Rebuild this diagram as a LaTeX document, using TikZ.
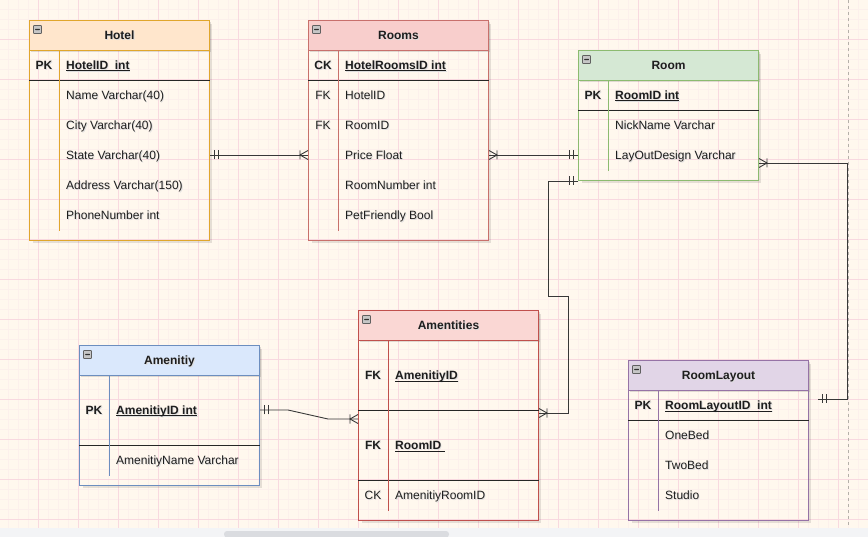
\documentclass[tikz,border=0pt]{standalone}
\usepackage{fontspec}
\setmainfont{Liberation Sans}
\usetikzlibrary{decorations.markings,calc}

\definecolor{bg}{HTML}{FFF8EE}
\definecolor{gridmaj}{HTML}{F8D9E0}
\definecolor{gridmin}{HTML}{FCF0EC}
\definecolor{strip}{HTML}{F3F4F6}
\definecolor{scroll}{HTML}{DADCE0}
\definecolor{pageline}{HTML}{B5B0AA}
\definecolor{txt}{HTML}{1E1E1E}
\definecolor{hotelF}{HTML}{FFE6CC}\definecolor{hotelB}{HTML}{E0A62C}
\definecolor{roomsF}{HTML}{F8CECC}\definecolor{roomsB}{HTML}{C8706C}
\definecolor{roomF}{HTML}{D5E8D4}\definecolor{roomB}{HTML}{8CBB70}
\definecolor{amenF}{HTML}{DAE8FC}\definecolor{amenB}{HTML}{6C8EBF}
\definecolor{amtsF}{HTML}{FAD7D4}\definecolor{amtsB}{HTML}{C0504D}
\definecolor{layF}{HTML}{E1D5E7}\definecolor{layB}{HTML}{9673A6}

% text with a soft offset shadow
\newcommand\sh[1]{\leavevmode\rlap{\kern0.9pt\raisebox{-0.9pt}{\textcolor{black!13}{#1}}}#1}
% underline that ignores descenders
\newcommand\ul[1]{\underline{\smash{#1}}}

\tikzset{
  tbody/.style={anchor=north west, minimum width=180pt, inner sep=0pt, line width=1pt},
  thead/.style={anchor=north west, minimum width=180pt, minimum height=30pt, inner sep=0pt,
    text height=8.6pt, text depth=0pt,
    line width=1pt, font=\fontsize{12}{14}\selectfont\bfseries, text=txt},
  tshadow/.style={draw=black, opacity=0.10, line width=2.5pt},
  minusicon/.style={draw=gray!75!black, fill=gray!45, minimum size=8pt, inner sep=0pt,
    rounded corners=0.6pt, line width=0.6pt,
    path picture={\fill[black!80] ([xshift=1.6pt,yshift=-0.7pt]path picture bounding box.west)
      rectangle ([xshift=-1.6pt,yshift=0.7pt]path picture bounding box.east);}},
  rowtxt/.style={inner sep=0pt, text height=8.6pt, text depth=0pt, text=txt,
    font=\fontsize{12}{14}\selectfont},
  keytxt/.style={rowtxt, anchor=center},
  fieldtxt/.style={rowtxt, anchor=west},
  keyb/.style={keytxt, font=\fontsize{12}{14}\selectfont\bfseries},
  fieldb/.style={fieldtxt, font=\fontsize{12}{14}\selectfont\bfseries},
  sepline/.style={draw=black!85, line width=0.9pt},
  conn/.style={draw=black!78, line width=0.9pt},
  mk/.style={draw=black!78, line width=0.9pt},
  one start/.style={postaction={decorate, decoration={markings,
      mark=at position 4.5pt with {\draw[mk] (0,-4.5pt) -- (0,4.5pt);},
      mark=at position 8.5pt with {\draw[mk] (0,-4.5pt) -- (0,4.5pt);}}}},
  one end/.style={postaction={decorate, decoration={markings,
      mark=at position -4.5pt with {\draw[mk] (0,-4.5pt) -- (0,4.5pt);},
      mark=at position -8.5pt with {\draw[mk] (0,-4.5pt) -- (0,4.5pt);}}}},
  many start/.style={postaction={decorate, decoration={markings,
      mark=at position 8pt with {\draw[mk] (-8pt,4.5pt) -- (0,0) -- (-8pt,-4.5pt) (0,-4.5pt) -- (0,4.5pt);}}}},
  many end/.style={postaction={decorate, decoration={markings,
      mark=at position -8pt with {\draw[mk] (8pt,4.5pt) -- (0,0) -- (8pt,-4.5pt) (0,-4.5pt) -- (0,4.5pt);}}}},
}

% #1 name, #2 top-left x,y, #3 height, #4 header fill, #5 border, #6 title
\newcommand\ertable[6]{%
  \draw[tshadow] ([shift={(181.8,4)}]#2) -- ++(0,{#3-2.2}) -- ++(-177.8,0);
  \fill[black, opacity=0.12] ([shift={(2,2.5)}]#2) rectangle ++(180,30);
  \node[tbody, draw=#5, minimum height=#3pt] (#1) at (#2) {};
  \node[thead, fill=#4, draw=#5] (#1-h) at (#2) {\sh{#6}};
  \node[minusicon] (#1-i) at ([shift={(8.5,9.5)}]#2) {};
}

\begin{document}
\begin{tikzpicture}[x=1pt, y=-1pt]
\useasboundingbox (0,0) rectangle (868,537);

% canvas and grid
\fill[bg] (0,0) rectangle (868,528);
\foreach \x in {8,18,...,858} \draw[gridmin, line width=0.8pt] (\x,0) -- (\x,528);
\foreach \y in {9,19,...,519} \draw[gridmin, line width=0.8pt] (0,\y) -- (868,\y);
\foreach \x in {38,78,...,838} \draw[gridmaj, line width=0.9pt] (\x,0) -- (\x,528);
\foreach \y in {39,79,...,519} \draw[gridmaj, line width=0.9pt] (0,\y) -- (868,\y);
\draw[pageline, line width=0.9pt, dash pattern=on 3pt off 3pt] (848,0) -- (848,528);
\fill[strip] (0,528) rectangle (868,537);
\fill[scroll, rounded corners=3pt] (224,531) rectangle (449,537.5);

% ---------- Hotel ----------
\ertable{hotel}{29,20}{220}{hotelF}{hotelB}{Hotel}
\draw[sepline] ($(hotel.north west)+(0,60)$) -- ($(hotel.north east)+(0,60)$);
\draw[hotelB, line width=1pt] ($(hotel.north west)+(30,30.5)$) -- ($(hotel.south west)+(30,-10)$);
\node[keyb] (h-k1) at (44,65) {\sh{PK}};
\node[fieldb] (h-f1) at (66,65) {\sh{\ul{HotelID\ \ int}}};
\node[fieldtxt] (h-f2) at (66,95) {\sh{Name Varchar(40)}};
\node[fieldtxt] (h-f3) at (66,125) {\sh{City Varchar(40)}};
\node[fieldtxt] (h-f4) at (66,155) {\sh{State Varchar(40)}};
\node[fieldtxt] (h-f5) at (66,185) {\sh{Address Varchar(150)}};
\node[fieldtxt] (h-f6) at (66,215) {\sh{PhoneNumber int}};

% ---------- Rooms ----------
\ertable{rooms}{308,20}{220}{roomsF}{roomsB}{Rooms}
\draw[sepline] ($(rooms.north west)+(0,60)$) -- ($(rooms.north east)+(0,60)$);
\draw[roomsB, line width=1pt] ($(rooms.north west)+(30,30.5)$) -- ($(rooms.south west)+(30,-10)$);
\node[keyb] (r-k1) at (323,65) {\sh{CK}};
\node[fieldb] (r-f1) at (345,65) {\sh{\ul{HotelRoomsID int}}};
\node[keytxt] (r-k2) at (323,95) {\sh{FK}};
\node[fieldtxt] (r-f2) at (345,95) {\sh{HotelID}};
\node[keytxt] (r-k3) at (323,125) {\sh{FK}};
\node[fieldtxt] (r-f3) at (345,125) {\sh{RoomID}};
\node[fieldtxt] (r-f4) at (345,155) {\sh{Price Float}};
\node[fieldtxt] (r-f5) at (345,185) {\sh{RoomNumber int}};
\node[fieldtxt] (r-f6) at (345,215) {\sh{PetFriendly Bool}};

% ---------- Room ----------
\ertable{room}{578,50}{130}{roomF}{roomB}{Room}
\draw[sepline] ($(room.north west)+(0,60)$) -- ($(room.north east)+(0,60)$);
\draw[roomB, line width=1pt] ($(room.north west)+(30,30.5)$) -- ($(room.south west)+(30,-10)$);
\node[keyb] (ro-k1) at (593,95) {\sh{PK}};
\node[fieldb] (ro-f1) at (615,95) {\sh{\ul{RoomID int}}};
\node[fieldtxt] (ro-f2) at (615,125) {\sh{NickName Varchar}};
\node[fieldtxt] (ro-f3) at (615,155) {\sh{LayOutDesign Varchar}};

% ---------- Amenitiy ----------
\ertable{amen}{79,345}{140}{amenF}{amenB}{Amenitiy}
\draw[sepline] ($(amen.north west)+(0,100)$) -- ($(amen.north east)+(0,100)$);
\draw[amenB, line width=1pt] ($(amen.north west)+(30,30.5)$) -- ($(amen.south west)+(30,-10)$);
\node[keyb] (a-k1) at (94,410) {\sh{PK}};
\node[fieldb] (a-f1) at (116,410) {\sh{\ul{AmenitiyID int}}};
\node[fieldtxt] (a-f2) at (116,460) {\sh{AmenitiyName Varchar}};

% ---------- Amentities ----------
\ertable{amts}{358,310}{210}{amtsF}{amtsB}{Amentities}
\draw[sepline] ($(amts.north west)+(0,100)$) -- ($(amts.north east)+(0,100)$);
\draw[sepline] ($(amts.north west)+(0,170)$) -- ($(amts.north east)+(0,170)$);
\draw[amtsB, line width=1pt] ($(amts.north west)+(30,30.5)$) -- ($(amts.south west)+(30,-10)$);
\node[keyb] (m-k1) at (373,375) {\sh{FK}};
\node[fieldb] (m-f1) at (395,375) {\sh{\ul{AmenitiyID}}};
\node[keyb] (m-k2) at (373,445) {\sh{FK}};
\node[fieldb] (m-f2) at (395,445) {\sh{\ul{RoomID\ }}};
\node[keytxt] (m-k3) at (373,495) {\sh{CK}};
\node[fieldtxt] (m-f3) at (395,495) {\sh{AmenitiyRoomID}};

% ---------- RoomLayout ----------
\ertable{lay}{628,360}{160}{layF}{layB}{RoomLayout}
\draw[sepline] ($(lay.north west)+(0,60)$) -- ($(lay.north east)+(0,60)$);
\draw[layB, line width=1pt] ($(lay.north west)+(30,30.5)$) -- ($(lay.south west)+(30,-10)$);
\node[keyb] (l-k1) at (643,405) {\sh{PK}};
\node[fieldb] (l-f1) at (665,405) {\sh{\ul{RoomLayoutID\ \ int}}};
\node[fieldtxt] (l-f2) at (665,435) {\sh{OneBed}};
\node[fieldtxt] (l-f3) at (665,465) {\sh{TwoBed}};
\node[fieldtxt] (l-f4) at (665,495) {\sh{Studio}};

% ---------- relationships ----------
\coordinate (lay-end) at (818,399);
\draw[conn, one start, many end] (hotel.east |- h-f4) -- (rooms.west |- r-f4);
\draw[conn, many start, one end] (rooms.east |- r-f4) -- (room.west |- ro-f3);
\draw[conn, one start, many end] (room.south west) -- ++(-30,0) -- (548,296) -- (568,296)
  -- (568,413) -- (amts.east |- 0,413);
\draw[conn, many start, one end] (room.east |- 0,163) -- (847,163) -- (847,399) -- (lay-end);
\draw[conn, one start, many end] (amen.east |- a-f1) -- (288,410) -- (328,419)
  -- (amts.west |- 0,419);
\end{tikzpicture}
\end{document}
